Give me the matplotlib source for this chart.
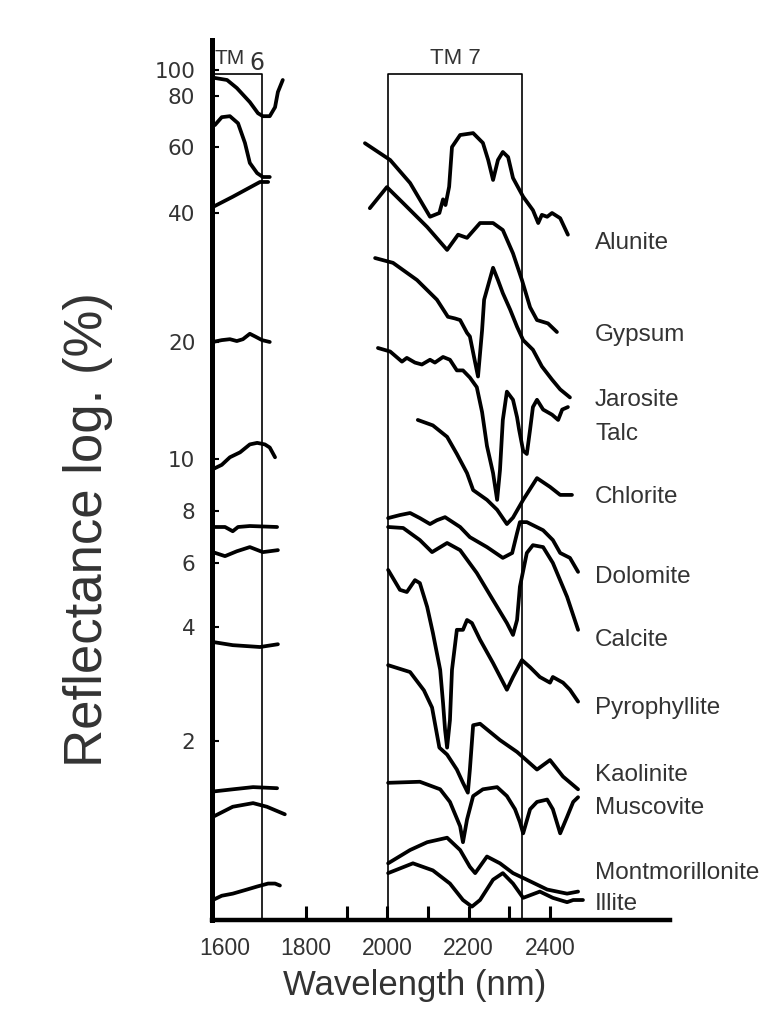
import numpy as np
import matplotlib
matplotlib.use("Agg")
import matplotlib.pyplot as plt
from matplotlib.ticker import FixedLocator, NullLocator

# --- spectra (wavelength nm, reflectance %) ---
# short segments around TM6 (1570-1750 nm), top to bottom
seg1_nm = [1576, 1606, 1630, 1662, 1682, 1694, 1711, 1724, 1731, 1743]
seg1_r = [93.4, 91.8, 85.7, 77.3, 72.6, 71.4, 71.4, 75.1, 82.8, 91.8]
seg2_nm = [1576, 1593, 1613, 1633, 1650, 1662, 1680, 1694, 1711]
seg2_r = [67.9, 71.0, 71.4, 68.6, 61.4, 54.4, 51.1, 49.9, 49.9]
seg3_nm = [1571, 1620, 1687, 1707]
seg3_r = [41.5, 44.2, 48.4, 48.4]
seg4_nm = [1571, 1593, 1613, 1630, 1645, 1662, 1675, 1692, 1711]
seg4_r = [20.0, 20.2, 20.3, 20.1, 20.3, 20.9, 20.6, 20.2, 20.0]
seg5_nm = [1571, 1593, 1613, 1638, 1662, 1680, 1699, 1711, 1724]
seg5_r = [9.57, 9.75, 10.1, 10.4, 10.9, 11.0, 10.9, 10.7, 10.1]
seg6_nm = [1571, 1601, 1620, 1633, 1662, 1729]
seg6_r = [7.32, 7.32, 7.15, 7.32, 7.36, 7.32]
seg7_nm = [1571, 1601, 1630, 1662, 1694, 1731]
seg7_r = [6.37, 6.23, 6.40, 6.55, 6.37, 6.44]
seg8_nm = [1571, 1620, 1687, 1731]
seg8_r = [3.65, 3.58, 3.54, 3.60]
seg9_nm = [1571, 1620, 1670, 1729]
seg9_r = [1.47, 1.49, 1.51, 1.50]
seg10_nm = [1571, 1620, 1670, 1704, 1748]
seg10_r = [1.26, 1.34, 1.37, 1.34, 1.28]
seg11_nm = [1571, 1593, 1620, 1655, 1680, 1707, 1724, 1736]
seg11_r = [0.76, 0.78, 0.79, 0.81, 0.825, 0.84, 0.84, 0.83]

# long spectra around TM7 (1950-2480 nm)
alunite_nm = [1945, 2007, 2056, 2105, 2128, 2137, 2143, 2152, 2159, 2179, 2211, 2235,
              2248, 2260, 2272, 2284, 2297, 2309, 2334, 2358, 2371, 2380, 2393, 2405,
              2425, 2444]
alunite_r = [61.3, 55.4, 48.1, 39.2, 40.0, 43.5, 42.0, 47.0, 60.0, 64.2, 64.9, 61.4,
             55.4, 49.0, 55.4, 58.2, 56.4, 49.6, 44.2, 40.7, 37.9, 39.6, 39.2, 40.0,
             38.9, 35.6]
gypsum_nm = [1957, 1999, 2039, 2098, 2147, 2174, 2196, 2228, 2260, 2284, 2309, 2331,
             2351, 2368, 2395, 2417]
gypsum_r = [41.2, 46.9, 42.5, 37.1, 32.8, 35.6, 35.0, 37.9, 37.9, 36.5, 32.2, 27.9,
            24.1, 22.5, 22.1, 21.1]
jarosite_nm = [1970, 2014, 2073, 2122, 2149, 2166, 2179, 2196, 2203, 2216, 2223, 2233,
               2238, 2260, 2272, 2284, 2302, 2319, 2334, 2358, 2380, 2405, 2425, 2449]
jarosite_r = [31.4, 30.6, 27.9, 25.1, 22.9, 22.7, 22.5, 21.0, 20.6, 17.7, 16.3, 21.3,
              25.1, 29.8, 27.9, 26.0, 23.8, 21.7, 20.2, 19.1, 17.3, 16.0, 15.1, 14.4]
talc_nm = [1977, 2007, 2036, 2048, 2068, 2085, 2105, 2117, 2137, 2154, 2171, 2186,
           2203, 2220, 2233, 2245, 2260, 2270, 2277, 2284, 2294, 2309, 2319, 2324,
           2334, 2343, 2351, 2358, 2368, 2383, 2405, 2420, 2430, 2444]
talc_r = [19.3, 18.9, 17.8, 18.2, 17.7, 17.5, 18.0, 17.7, 18.3, 18.0, 16.9, 16.9,
          16.2, 15.3, 13.2, 10.8, 9.41, 8.39, 9.53, 12.6, 14.9, 14.2, 12.8, 11.9,
          10.5, 10.3, 11.9, 13.6, 14.2, 13.4, 13.0, 12.6, 13.4, 13.6]
chlorite_nm = [2075, 2112, 2147, 2171, 2196, 2211, 2245, 2270, 2294, 2309, 2334, 2368,
               2400, 2425, 2454]
chlorite_r = [12.6, 12.2, 11.4, 10.3, 9.41, 8.75, 8.39, 8.04, 7.44, 7.71, 8.39, 9.21,
              8.87, 8.57, 8.57]
dolomite_nm = [2002, 2031, 2056, 2080, 2105, 2122, 2142, 2179, 2203, 2245, 2284, 2307,
               2319, 2326, 2343, 2383, 2407, 2425, 2449, 2469]
dolomite_r = [7.69, 7.82, 7.91, 7.69, 7.44, 7.60, 7.73, 7.32, 6.92, 6.55, 6.17, 6.34,
              7.08, 7.52, 7.52, 7.19, 6.81, 6.34, 6.17, 5.67]
calcite_nm = [2002, 2039, 2080, 2110, 2147, 2179, 2220, 2260, 2294, 2309, 2319, 2326,
              2343, 2358, 2383, 2407, 2442, 2469]
calcite_r = [7.32, 7.28, 6.81, 6.37, 6.70, 6.44, 5.63, 4.74, 4.10, 3.81, 4.18, 5.16,
             6.34, 6.62, 6.55, 6.0, 4.84, 3.93]
pyrophyllite_nm = [2002, 2031, 2048, 2068, 2080, 2098, 2112, 2130, 2137, 2142, 2147,
                   2154, 2159, 2171, 2186, 2196, 2208, 2228, 2260, 2294, 2309, 2331,
                   2351, 2375, 2400, 2407, 2432, 2449, 2469]
pyrophyllite_r = [5.74, 5.06, 4.99, 5.38, 5.28, 4.54, 3.86, 3.08, 2.52, 2.14, 1.92,
                  2.27, 3.08, 3.93, 3.93, 4.18, 4.10, 3.70, 3.21, 2.73, 2.95, 3.27,
                  3.13, 2.95, 2.85, 2.95, 2.85, 2.73, 2.54]
kaolinite_nm = [2002, 2056, 2090, 2110, 2128, 2147, 2171, 2186, 2198, 2203, 2211, 2228,
                2277, 2319, 2368, 2400, 2432, 2469]
kaolinite_r = [3.17, 3.04, 2.72, 2.45, 1.92, 1.84, 1.68, 1.55, 1.46, 1.68, 2.20, 2.22,
               2.01, 1.87, 1.68, 1.78, 1.61, 1.49]
muscovite_nm = [2002, 2080, 2130, 2154, 2179, 2186, 2196, 2211, 2235, 2270, 2294, 2314,
                2326, 2334, 2351, 2368, 2393, 2407, 2425, 2442, 2457, 2469]
muscovite_r = [1.55, 1.56, 1.49, 1.38, 1.19, 1.08, 1.24, 1.43, 1.49, 1.51, 1.43, 1.32,
               1.22, 1.14, 1.32, 1.38, 1.40, 1.32, 1.14, 1.26, 1.38, 1.42]
montmorillonite_nm = [2002, 2056, 2098, 2147, 2179, 2203, 2216, 2245, 2277, 2309, 2343,
                      2393, 2442, 2469]
montmorillonite_r = [0.95, 1.03, 1.08, 1.11, 1.03, 0.93, 0.895, 0.99, 0.95, 0.895, 0.86,
                     0.81, 0.79, 0.80]
illite_nm = [2002, 2063, 2112, 2154, 2186, 2208, 2228, 2260, 2284, 2309, 2334, 2375,
             2407, 2442, 2457, 2481]
illite_r = [0.895, 0.95, 0.91, 0.84, 0.76, 0.73, 0.76, 0.86, 0.895, 0.84, 0.77, 0.80,
            0.77, 0.75, 0.76, 0.76]

mineral_names = ['Alunite', 'Gypsum', 'Jarosite', 'Talc', 'Chlorite', 'Dolomite',
                 'Calcite', 'Pyrophyllite', 'Kaolinite', 'Muscovite',
                 'Montmorillonite', 'Illite']
label_r = [34.0, 20.8, 14.2, 11.6, 8.5, 5.49, 3.70, 2.44, 1.63, 1.33, 0.895, 0.74]

y_ticks = [2, 4, 6, 8, 10, 20, 40, 60, 80, 100]
x_labels = [1600, 1800, 2000, 2200, 2400]
x_minor = [1900, 2100, 2300]

# TM bands as drawn (nm)
tm6_edge = 1692
tm7_band = (2002, 2331)
band_top = 96.6

# hand-drawn log axis: tick heights are not evenly logarithmic, so the
# scale is calibrated piecewise on the drawn ticks (height in px above x axis)
cal_r = [0.5, 2, 4, 6, 8, 10, 20, 40, 60, 80, 100, 200]
cal_h = [-49, 179, 293, 357, 409, 461, 578, 707, 773, 824, 850, 931]
cal_log = np.log10(cal_r)


def fwd(v):
    v = np.clip(np.asarray(v, dtype=float), 1e-3, None)
    return np.interp(np.log10(v), cal_log, cal_h)


def inv(h):
    return 10 ** np.interp(np.asarray(h, dtype=float), cal_h, cal_log)


text_col = '#333333'
fig = plt.figure(figsize=(7.84, 10.16), dpi=100)
ax = fig.add_axes([212 / 784, 96 / 1016, 458 / 784, 880 / 1016])
ax.set_yscale('function', functions=(fwd, inv))
ax.set_xlim(1569, 2695)
ax.set_ylim(0.673, 129.3)

curves = [(seg1_nm, seg1_r), (seg2_nm, seg2_r), (seg3_nm, seg3_r), (seg4_nm, seg4_r),
          (seg5_nm, seg5_r), (seg6_nm, seg6_r), (seg7_nm, seg7_r), (seg8_nm, seg8_r),
          (seg9_nm, seg9_r), (seg10_nm, seg10_r), (seg11_nm, seg11_r),
          (alunite_nm, alunite_r), (gypsum_nm, gypsum_r), (jarosite_nm, jarosite_r),
          (talc_nm, talc_r), (chlorite_nm, chlorite_r), (dolomite_nm, dolomite_r),
          (calcite_nm, calcite_r), (pyrophyllite_nm, pyrophyllite_r),
          (kaolinite_nm, kaolinite_r), (muscovite_nm, muscovite_r),
          (montmorillonite_nm, montmorillonite_r), (illite_nm, illite_r)]
for nm, r in curves:
    ax.plot(nm, r, color='black', lw=2.7, solid_joinstyle='round',
            solid_capstyle='round')

# TM band boxes
ymin = ax.get_ylim()[0]
ax.plot([1569, tm6_edge, tm6_edge], [band_top, band_top, ymin], color='black', lw=1.2)
ax.plot([tm7_band[0], tm7_band[0], tm7_band[1], tm7_band[1]],
        [ymin, band_top, band_top, ymin], color='black', lw=1.2)
ax.text(1574, 110, 'TM', fontsize=15, color=text_col, family='Liberation Sans',
        ha='left', va='center')
ax.text(1662, 106, '6', fontsize=17, color=text_col, family='DejaVu Sans',
        ha='left', va='center')
ax.text(sum(tm7_band) / 2, 110, 'TM 7', fontsize=16, color=text_col,
        family='Liberation Sans', ha='center', va='center')

for name, r in zip(mineral_names, label_r):
    ax.text(2511, r, name, fontsize=17.5, color=text_col, family='Liberation Sans',
            ha='left', va='center')

# axes styling
for side in ['top', 'right']:
    ax.spines[side].set_visible(False)
ax.spines['left'].set_linewidth(3.6)
ax.spines['bottom'].set_linewidth(3.2)

ax.yaxis.set_major_locator(FixedLocator(y_ticks))
ax.yaxis.set_minor_locator(NullLocator())
ax.set_yticklabels([str(t) for t in y_ticks], fontsize=15.5, color=text_col)
ax.tick_params(axis='y', direction='in', length=5, width=1.5, pad=12)

ax.xaxis.set_major_locator(FixedLocator(x_labels))
ax.xaxis.set_minor_locator(FixedLocator(x_minor))
ax.set_xticklabels([str(t) for t in x_labels], fontsize=16.5, color=text_col,
                   family='Liberation Sans')
ax.tick_params(axis='x', which='both', direction='in', length=10, width=2.2, pad=12)
ax.xaxis.get_major_ticks()[0].tick1line.set_visible(False)

fig.text(88 / 784, 1 - 530 / 1016, 'Reflectance log. (%)', rotation=90, fontsize=38,
         color=text_col, family='Liberation Sans', ha='center', va='center')
fig.text(415 / 784, 1 - 985 / 1016, 'Wavelength (nm)', fontsize=25, color=text_col,
         family='Liberation Sans', ha='center', va='center')

fig.savefig('out.png', dpi=100)
